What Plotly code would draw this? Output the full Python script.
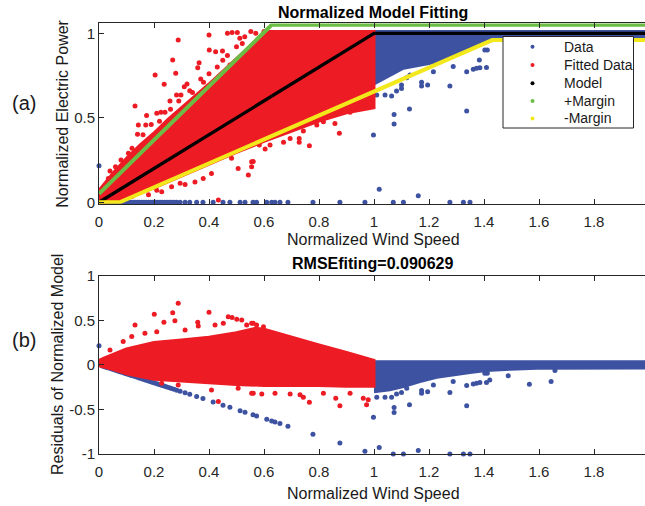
import plotly.graph_objects as go

# ---------------- values ----------------
# tick labels
x_tick_vals = [0, 0.2, 0.4, 0.6, 0.8, 1.0, 1.2, 1.4, 1.6, 1.8, 2.0]
x_tick_text = ["0", "0.2", "0.4", "0.6", "0.8", "1", "1.2", "1.4", "1.6", "1.8", "2"]
ya_tick_vals = [0, 0.5, 1]
ya_tick_text = ["0", "0.5", "1"]
yb_tick_vals = [-1, -0.5, 0, 0.5, 1]
yb_tick_text = ["-1", "-0.5", "0", "0.5", "1"]

# (a) model and margins
model_x = [0.0, 1.0, 2.0]
model_y = [0.0, 1.0, 1.0]
plus_margin_x = [0.0, 0.628, 2.0]
plus_margin_y = [0.05, 1.05, 1.05]
minus_margin_x = [0.0, 0.075, 1.43, 2.0]
minus_margin_y = [0.0, 0.0, 0.96, 0.96]

# (a) outline of the dense "Fitted Data" cloud
fitted_cloud_x = [0.0, 0.0, 0.05, 0.1, 0.15, 0.2, 0.25, 0.3, 0.4, 0.5, 0.58, 0.62, 1.0,
                  1.0, 0.9, 0.8, 0.7, 0.6, 0.5, 0.4, 0.3, 0.2, 0.075, 0.0]
fitted_cloud_y = [0.0, 0.07, 0.17, 0.26, 0.34, 0.41, 0.49, 0.56, 0.70, 0.85, 0.97, 1.01, 1.01,
                  0.56, 0.53, 0.48, 0.42, 0.36, 0.295, 0.225, 0.155, 0.085, 0.005, 0.0]
# (a) outline of the dense "Data" cloud beyond rated speed
data_cloud_x = [1.0, 2.0, 2.0, 1.8, 1.6, 1.47, 1.434, 1.349, 1.228, 1.107, 1.022, 1.0]
data_cloud_y = [1.01, 1.01, 0.975, 0.975, 0.97, 0.965, 0.96, 0.91, 0.83, 0.793, 0.72, 0.70]

# (a) scattered fitted points
fitted_pts = [
    (0.288, 0.96), (0.268, 0.842), (0.204, 0.753), (0.279, 0.763), (0.237, 0.698),
    (0.131, 0.57), (0.40, 0.99), (0.401, 0.901), (0.364, 0.826), (0.359, 0.796),
    (0.467, 1.0), (0.484, 1.005), (0.503, 1.005), (0.512, 0.97), (0.552, 1.01),
    (0.521, 0.94), (0.424, 0.891), (0.449, 0.895), (0.467, 0.868), (0.476, 0.812),
    (0.495, 0.835), (0.31, 0.684), (0.298, 0.635), (0.282, 0.635), (0.258, 0.6),
    (0.24, 0.533), (0.225, 0.533), (0.21, 0.527), (0.173, 0.513), (0.17, 0.457),
    (0.143, 0.457), (0.14, 0.402), (0.107, 0.29), (0.1, 0.24), (0.088, 0.225),
    (0.04, 0.185), (0.034, 0.141), (0.33, 0.66), (0.32, 0.70), (0.37, 0.73),
    (0.40, 0.76), (0.43, 0.80), (0.45, 0.84), (0.50, 0.92), (0.53, 0.98),
    (0.57, 1.0), (0.60, 1.01), (0.555, 0.24), (0.506, 0.20), (0.482, 0.26),
    (0.409, 0.17), (0.379, 0.141), (0.349, 0.12), (0.313, 0.106), (0.295, 0.112),
    (0.264, 0.092), (0.228, 0.063), (0.21, 0.072), (0.434, 0.013), (0.543, 0.161),
    (0.561, 0.241), (0.555, 0.211), (0.765, 0.335), (0.728, 0.378), (0.728, 0.355),
    (0.743, 0.422), (0.874, 0.408), (0.858, 0.466), (0.695, 0.378), (0.671, 0.355),
    (0.622, 0.339), (0.604, 0.315), (0.583, 0.339), (0.913, 0.533), (0.937, 0.556),
    (0.967, 0.58), (0.979, 0.566), (0.816, 0.477), (0.804, 0.497), (0.84, 0.517),
    (0.792, 0.457), (0.15, 0.06), (0.12, 0.035), (0.18, 0.045),
    (0.06, 0.21), (0.08, 0.25), (0.12, 0.32), (0.16, 0.40), (0.19, 0.46),
    (0.22, 0.48), (0.26, 0.55), (0.29, 0.60), (0.34, 0.65), (0.38, 0.71),
]
# (a) scattered raw data points
data_pts = [
    (0.0, 0.217), (0.998, 0.398), (1.019, 0.077), (1.073, 0.52), (1.073, 0.463),
    (1.129, 0.552), (1.337, 0.54), (1.161, 0.039), (1.276, 0.688), (1.173, 0.71),
    (1.173, 0.688), (1.195, 0.694), (1.337, 0.773), (1.361, 0.787), (1.373, 0.793),
    (1.385, 0.796), (1.409, 0.798), (1.383, 0.842), (1.403, 0.901), (1.412, 0.901),
    (1.288, 0.803), (1.216, 0.773), (1.04, 0.635), (1.064, 0.629), (1.082, 0.659),
    (1.10, 0.674), (1.10, 0.694), (1.119, 0.737), (1.131, 0.753), (1.01, 0.635),
]
# wind speeds of the zero-power records, their power, and their residuals
zero_speed = [0.012, 0.02, 0.028, 0.036, 0.044, 0.052, 0.06, 0.068, 0.076, 0.083,
              0.091, 0.098, 0.107, 0.115, 0.122, 0.131, 0.139, 0.146, 0.155, 0.163,
              0.171, 0.18, 0.188, 0.196, 0.205, 0.213, 0.222, 0.23, 0.239, 0.247,
              0.256, 0.264, 0.273, 0.283, 0.295, 0.313, 0.33, 0.355, 0.378, 0.415,
              0.451, 0.476, 0.513, 0.531, 0.56, 0.573, 0.61, 0.628, 0.64, 0.658,
              0.687, 0.778, 0.876, 0.967, 1.07, 1.107, 1.276, 1.325, 1.349]
zero_power = [0.0] * 59
zero_resid = [-0.012, -0.02, -0.028, -0.036, -0.044, -0.052, -0.06, -0.068, -0.076, -0.083,
              -0.091, -0.098, -0.107, -0.115, -0.122, -0.131, -0.139, -0.146, -0.155, -0.163,
              -0.171, -0.18, -0.188, -0.196, -0.205, -0.213, -0.222, -0.23, -0.239, -0.247,
              -0.256, -0.264, -0.273, -0.283, -0.295, -0.313, -0.33, -0.355, -0.378, -0.415,
              -0.451, -0.476, -0.513, -0.531, -0.56, -0.573, -0.61, -0.628, -0.64, -0.658,
              -0.687, -0.778, -0.876, -0.967, -1.0, -1.0, -1.0, -1.0, -1.0]

# (b) outline of the dense fitted residual cloud
fitted_res_cloud_x = [0.0, 0.02, 0.1, 0.2, 0.3, 0.4, 0.5, 0.57, 0.6, 0.7, 0.8, 0.9, 1.0,
                      1.0, 0.9, 0.8, 0.7, 0.6, 0.5, 0.4, 0.3, 0.2, 0.1, 0.05, 0.0]
fitted_res_cloud_y = [0.05, 0.08, 0.18, 0.25, 0.28, 0.31, 0.36, 0.41, 0.40, 0.31, 0.225, 0.14, 0.05,
                      -0.24, -0.24, -0.23, -0.23, -0.23, -0.22, -0.2, -0.18, -0.16, -0.1, -0.05, -0.01]
# (b) outline of the dense data residual cloud
data_res_cloud_x = [1.0, 2.0, 2.0, 1.8, 1.592, 1.495, 1.409, 1.349, 1.288, 1.228, 1.167, 1.107, 1.058, 1.0]
data_res_cloud_y = [0.035, 0.035, -0.035, -0.035, -0.037, -0.048, -0.063, -0.085, -0.112, -0.138,
                    -0.187, -0.243, -0.28, -0.30]
# (b) scattered fitted residuals
fitted_res_pts = [
    (0.288, 0.69), (0.201, 0.567), (0.268, 0.586), (0.40, 0.59), (0.131, 0.448),
    (0.236, 0.478), (0.276, 0.496), (0.359, 0.478), (0.361, 0.437), (0.47, 0.541),
    (0.484, 0.53), (0.501, 0.512), (0.519, 0.504), (0.537, 0.448), (0.555, 0.466),
    (0.452, 0.466), (0.422, 0.448), (0.167, 0.355), (0.21, 0.373), (0.313, 0.392),
    (0.04, 0.168), (0.088, 0.262), (0.119, 0.317), (0.434, -0.41), (0.555, -0.317),
    (0.506, -0.261), (0.409, -0.28), (0.288, -0.224), (0.228, -0.205), (0.765, -0.42),
    (0.876, -0.459), (0.861, -0.373), (0.973, -0.448), (0.979, -0.392), (0.961, -0.373),
    (0.731, -0.336), (0.743, -0.362), (0.695, -0.325), (0.64, -0.317), (0.592, -0.325),
    (0.561, -0.317), (0.816, -0.317), (0.913, -0.317), (0.561, 0.466), (0.573, 0.448),
    (0.598, 0.429),
]
# (b) scattered data residuals
data_res_pts = [
    (0.0, 0.216), (0.998, -0.586), (1.019, -0.926), (1.073, -0.477), (1.073, -0.534),
    (1.129, -0.448), (1.337, -0.459), (1.161, -0.96), (1.276, -0.31), (1.173, -0.287),
    (1.173, -0.317), (1.195, -0.302), (1.337, -0.231), (1.361, -0.213), (1.373, -0.205),
    (1.385, -0.198), (1.409, -0.198), (1.421, -0.168), (1.403, -0.093), (1.412, -0.093),
    (1.565, -0.216), (1.644, -0.187), (1.488, -0.123), (1.658, -0.063), (1.01, -0.362),
    (1.04, -0.362), (1.064, -0.362), (1.082, -0.325), (1.10, -0.31), (1.119, -0.261),
    (1.288, -0.187), (1.216, -0.224),
]

legend_names = ["Data", "Fitted Data", "Model", "+Margin", "-Margin"]

# ---------------- styling ----------------
BLUE = "#3D52A1"
RED = "#ED1C24"
GREEN = "#6CBD45"
YELLOW = "#F3E81B"
BLACK = "#000000"
AXC = "#262626"
FONT = "Liberation Sans, Arial, sans-serif"
W, H = 645, 506


def px_x(p):
    return p / W


def px_y(p):
    return 1 - p / H


fig = go.Figure()


def cloud(x, y, color, xa, ya):
    fig.add_trace(go.Scatter(x=x, y=y, mode="lines", fill="toself", fillcolor=color,
                             line=dict(color=color, width=3), xaxis=xa, yaxis=ya,
                             showlegend=False, hoverinfo="skip"))


def pts(pairs, color, xa, ya, clip=True):
    fig.add_trace(go.Scatter(x=[p[0] for p in pairs], y=[p[1] for p in pairs], mode="markers",
                             marker=dict(color=color, size=5, line=dict(width=0)),
                             xaxis=xa, yaxis=ya, showlegend=False, cliponaxis=clip))


def xy(xs, ys, color, xa, ya, clip=True):
    fig.add_trace(go.Scatter(x=xs, y=ys, mode="markers",
                             marker=dict(color=color, size=5, line=dict(width=0)),
                             xaxis=xa, yaxis=ya, showlegend=False, cliponaxis=clip))


def line(xs, ys, color, width):
    fig.add_trace(go.Scatter(x=xs, y=ys, mode="lines", line=dict(color=color, width=width),
                             xaxis="x", yaxis="y", showlegend=False))


# ----- panel (a) -----
cloud(data_cloud_x, data_cloud_y, BLUE, "x", "y")
pts(data_pts, BLUE, "x", "y", clip=False)
xy(zero_speed, zero_power, BLUE, "x", "y", clip=False)
cloud(fitted_cloud_x, fitted_cloud_y, RED, "x", "y")
pts(fitted_pts, RED, "x", "y")
line(model_x, model_y, BLACK, 3.3)
line(plus_margin_x, plus_margin_y, GREEN, 4)
line(minus_margin_x, minus_margin_y, YELLOW, 4)

# ----- panel (b) -----
cloud(data_res_cloud_x, data_res_cloud_y, BLUE, "x2", "y2")
pts(data_res_pts, BLUE, "x2", "y2", clip=False)
xy(zero_speed, zero_resid, BLUE, "x2", "y2", clip=False)
cloud(fitted_res_cloud_x, fitted_res_cloud_y, RED, "x2", "y2")
pts(fitted_res_pts, RED, "x2", "y2")

x_dom = [99 / W, 1]
x_rng = [0, (W - 99) / 275.0]
# panel (a): y=0 at 202.3px, 169 px per unit
ya_rng = [-0.008, 1.058]
ya_dom = [px_y(202.3 + 0.008 * 169), px_y(202.3 - 1.058 * 169)]
# panel (b): y=1 at 275.7px, y=-1 at 454.1px
yb_rng = [-1, 1]
yb_dom = [px_y(454.1), px_y(275.7)]

tickfont = dict(family=FONT, size=15, color=AXC)
common_x = dict(domain=x_dom, range=x_rng, tickvals=x_tick_vals, ticktext=x_tick_text,
                ticks="inside", ticklen=5, tickcolor=AXC, showline=True, linecolor=AXC,
                linewidth=1, mirror="ticks", showgrid=False, zeroline=False,
                tickfont=tickfont, ticklabelstandoff=4, automargin=False)
common_y = dict(ticks="inside", ticklen=5, tickcolor=AXC, showline=True, linecolor=AXC,
                linewidth=1, mirror=False, showgrid=False, zeroline=False, tickfont=tickfont,
                automargin=False)
right_y = dict(side="right", ticks="inside", ticklen=4, tickcolor=AXC, showticklabels=False,
               showline=False, showgrid=False, zeroline=False, automargin=False)

fig.update_layout(
    template="none",
    width=W, height=H, margin=dict(l=0, r=0, t=0, b=0, autoexpand=False),
    paper_bgcolor="white", plot_bgcolor="white", showlegend=False,
    xaxis=dict(anchor="y", **common_x),
    xaxis2=dict(anchor="y2", **common_x),
    yaxis=dict(domain=ya_dom, range=ya_rng, anchor="x", tickvals=ya_tick_vals,
               ticktext=ya_tick_text, **common_y),
    yaxis2=dict(domain=yb_dom, range=yb_rng, anchor="x2", tickvals=yb_tick_vals,
                ticktext=yb_tick_text, **common_y),
    yaxis3=dict(overlaying="y", anchor="x", range=ya_rng, tickvals=ya_tick_vals, **right_y),
    yaxis4=dict(overlaying="y2", anchor="x2", range=yb_rng, tickvals=yb_tick_vals, **right_y),
)

ann = []


def text(t, x, y, size, bold=False, angle=0, xanchor="center", color="#1a1a1a"):
    ann.append(dict(text=("<b>%s</b>" % t) if bold else t, x=x, y=y, xref="paper", yref="paper",
                    xanchor=xanchor, yanchor="middle", showarrow=False, textangle=angle,
                    font=dict(family=FONT, size=size, color=color)))


text("Normalized Model Fitting", px_x(373), px_y(13), 16, bold=True, color="black")
text("RMSEfiting=0.090629", px_x(373), px_y(263), 16, bold=True, color="black")
text("Normalized Wind Speed", px_x(373), px_y(240), 16)
text("Normalized Wind Speed", px_x(373), px_y(493), 16)
text("Normalized Electric Power", px_x(63), px_y(113.7), 16, angle=-90)
text("Residuals of Normalized Model", px_x(57), px_y(365), 16, angle=-90)
text("(a)", px_x(24), px_y(103), 20)
text("(b)", px_x(24), px_y(340), 20)

# legend (box, dots, labels)
shapes = [dict(type="rect", xref="paper", yref="paper", x0=px_x(503), x1=px_x(633.5),
               y0=px_y(128), y1=px_y(36.5), line=dict(color=AXC, width=1), fillcolor="white",
               layer="above")]
legend_rows = [46.7, 65, 83.3, 101, 118.5]
legend_colors = [BLUE, RED, BLACK, GREEN, YELLOW]
for name, col, ry in zip(legend_names, legend_colors, legend_rows):
    shapes.append(dict(type="circle", xref="paper", yref="paper", x0=px_x(530.5), x1=px_x(534.5),
                       y0=px_y(ry + 2), y1=px_y(ry - 2), fillcolor=col, line=dict(width=0),
                       layer="above"))
    text(name, px_x(561.5), px_y(ry), 14, xanchor="left")

fig.update_layout(annotations=ann, shapes=shapes)
fig.write_html("out.html")
